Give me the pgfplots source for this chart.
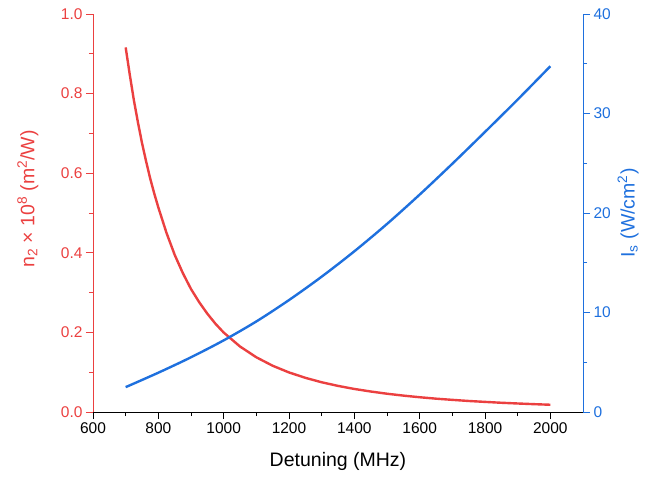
\documentclass[border=0pt]{standalone}
\usepackage{pgfplots}
\pgfplotsset{compat=1.18}
\usepackage{fontspec}
\setmainfont{Liberation Sans}
\definecolor{cred}{RGB}{235,64,64}
\definecolor{cblue}{RGB}{30,112,222}
\begin{document}
\begin{tikzpicture}
\useasboundingbox (-93pt,-64pt) rectangle (567pt,412pt);
\pgfplotsset{
  every axis/.style={
    scale only axis, width=490pt, height=398pt,
    xmin=600, xmax=2100,
    tick align=outside,
    major tick length=7pt, minor tick length=4pt,
    every tick/.style={line width=0.8pt},
    /pgf/number format/assume math mode=true,
    tick label style={font=\fontsize{15.5}{18}\selectfont},
    label style={font=\fontsize{19.5}{23}\selectfont},
    axis line style={line width=0.8pt},
  }
}
\begin{axis}[
  axis x line*=bottom, axis y line*=left,
  ymin=0, ymax=1,
  xtick={600,800,...,2000},
  minor x tick num=1,
  ytick={0,0.2,...,1.0},
  minor y tick num=1,
  x axis line style={black,-}, y axis line style={cred,-},
  xtick style={black}, ytick style={cred},
  yticklabel style={cred,/pgf/number format/.cd,fixed,fixed zerofill,precision=1},
  xticklabel style={black,/pgf/number format/1000 sep={}},
  xlabel={Detuning (MHz)},
  ylabel={\textcolor{cred}{n\textsubscript{2} × 10\textsuperscript{8} (m\textsuperscript{2}/W)}},
  xlabel style={at={(axis description cs:0.5,-0.125)},anchor=center},
  ylabel style={at={(axis description cs:-0.133,0.535)},anchor=center,rotate=0},
]
\addplot[cred, line width=2.4pt, line join=round] coordinates {
(700,0.916) (712.5,0.848) (725,0.784) (737.5,0.728) (750,0.676) (762.5,0.630)
(775,0.587) (787.5,0.549) (800,0.514)
(825,0.450) (850,0.395) (875,0.349) (900,0.309) (925,0.276) (950,0.247)
(975,0.2216) (1000,0.1997) (1050,0.1646) (1100,0.1375) (1150,0.1162)
(1200,0.0994) (1250,0.0859) (1300,0.0747) (1350,0.0656) (1400,0.0579)
(1450,0.0515) (1500,0.0459) (1550,0.0412) (1600,0.0371) (1650,0.0335)
(1700,0.0305) (1750,0.0277) (1800,0.0254) (1850,0.0232) (1900,0.0214)
(1950,0.0197) (2000,0.0182)
};
\end{axis}
\begin{axis}[
  axis x line=none, axis y line*=right,
  ymin=0, ymax=40,
  ytick={0,10,...,40},
  minor y tick num=1,
  y axis line style={cblue,-},
  ytick style={cblue},
  yticklabel style={cblue},
  ylabel={\textcolor{cblue}{I\textsubscript{s} (W/cm\textsuperscript{2})}},
  ylabel style={at={(axis description cs:1.092,0.5)},anchor=center,rotate=0},
]
\addplot[cblue, line width=2.4pt, smooth] coordinates {
(700,2.5) (800,3.95) (900,5.5) (1000,7.2) (1100,9.1) (1200,11.25)
(1300,13.6) (1400,16.15) (1500,18.9) (1600,21.85) (1700,24.95)
(1800,28.15) (1900,31.4) (2000,34.75)
};
\end{axis}
\end{tikzpicture}
\end{document}
